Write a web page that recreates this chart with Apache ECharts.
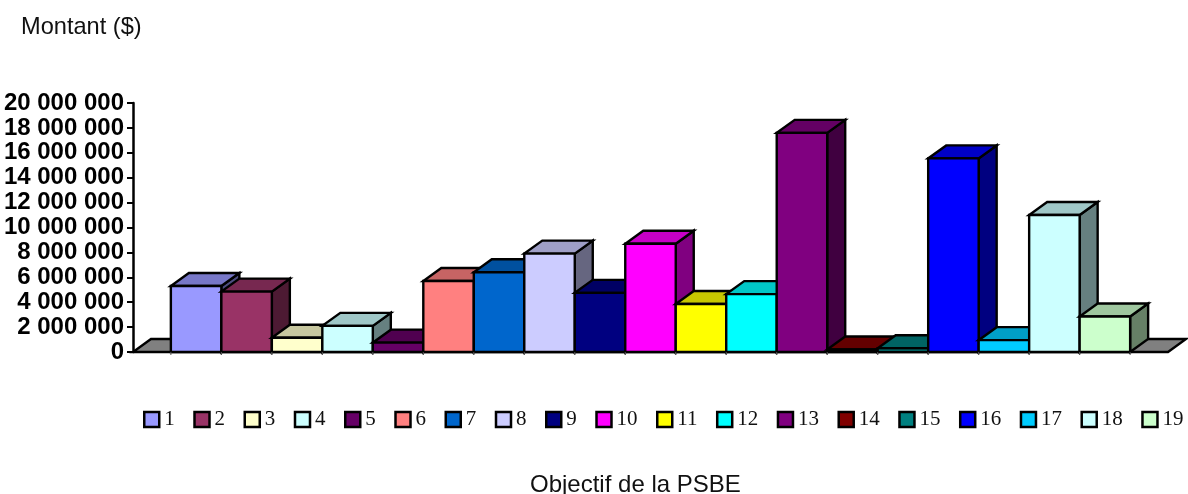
<!DOCTYPE html>
<html>
<head>
<meta charset="utf-8">
<style>html,body{margin:0;padding:0;background:#fff}#c{width:1188px;height:494px}</style>
<script src="https://cdn.jsdelivr.net/npm/echarts@6/dist/echarts.min.js"></script>
</head>
<body>
<div id="c"></div>
<script>
const objectives = ['1','2','3','4','5','6','7','8','9','10','11','12','13','14','15','16','17','18','19'];
const amounts = [5300000,4850000,1150000,2100000,750000,5700000,6400000,7900000,4750000,8700000,3850000,4650000,17600000,200000,300000,15550000,950000,11000000,2850000];
const colors = ['#9999FF','#993366','#FFFFCC','#CCFFFF','#660066','#FF8080','#0066CC','#CCCCFF','#000080','#FF00FF','#FFFF00','#00FFFF','#800080','#800000','#008080','#0000FF','#00CCFF','#CCFFFF','#CCFFCC'];
const category = ['Objectif de la PSBE'];
const yTicks = {min:0, max:20000000, interval:2000000};
const yTitle = 'Montant ($)';

const DX = 18, DY = -13, GAP = 0.75, N = objectives.length;

function shade(hex, f){
  const n = parseInt(hex.slice(1),16);
  const c = [(n>>16)&255,(n>>8)&255,n&255].map(v=>Math.round(v*f));
  return 'rgb('+c.join(',')+')';
}
function poly(points, fill){
  return {type:'polygon', shape:{points}, style:{fill, stroke:'#000', lineWidth:2.4, lineJoin:'miter'}};
}
function barGeom(api){
  const band = api.size([1,0])[0];
  const base = api.coord([0,0]);
  return {band, base, w: band/(N+2*GAP), left: base[0]-band/2};
}
function renderFloor(params, api){
  const g = barGeom(api), x0 = g.left, x1 = g.left+g.band, y = g.base[1];
  return {type:'group', children:[
    poly([[x0,y],[x1,y],[x1+DX,y+DY],[x0+DX,y+DY]], '#808080')
  ]};
}
function renderBar(i){
  return function(params, api){
    const g = barGeom(api);
    const x0 = g.left+(GAP+i)*g.w, x1 = x0+g.w;
    const yb = g.base[1], yt = api.coord([0,api.value(1)])[1];
    return {type:'group', children:[
      poly([[x1,yb],[x1+DX,yb+DY],[x1+DX,yt+DY],[x1,yt]], shade(colors[i],0.5)),
      poly([[x0,yt],[x1,yt],[x1+DX,yt+DY],[x0+DX,yt+DY]], shade(colors[i],0.78)),
      poly([[x0,yb],[x1,yb],[x1,yt],[x0,yt]], colors[i]),
      {type:'line', shape:{x1:x0,y1:yb,x2:x0,y2:yb+3}, style:{stroke:'#555',lineWidth:1}},
      {type:'line', shape:{x1:x1,y1:yb,x2:x1,y2:yb+3}, style:{stroke:'#555',lineWidth:1}}
    ]};
  };
}

const series = [{type:'custom', name:'sol', silent:true, data:[[0,0]], encode:{x:0,y:1}, renderItem:renderFloor, z:2}];
objectives.forEach((name,i)=>{
  series.push({type:'custom', name, silent:true, data:[[0,amounts[i]]], encode:{x:0,y:1},
    itemStyle:{color:colors[i]}, renderItem:renderBar(i), z:2});
});

const chart = echarts.init(document.getElementById('c'),null,{renderer:'canvas'});
chart.setOption({
  animation:false,
  backgroundColor:'#fff',
  title:[
    {text:yTitle,left:16,top:10,textStyle:{fontFamily:'Liberation Sans',fontSize:23.6,fontWeight:'normal',color:'#111'}},
    {text:category[0],left:525,top:468,textStyle:{fontFamily:'Liberation Sans',fontSize:24,fontWeight:'normal',color:'#111'}}
  ],
  legend:{
    data:objectives, left:138, top:404, width:1050, itemWidth:15, itemHeight:15, itemGap:18.5,
    icon:'rect', selectedMode:false,
    itemStyle:{borderColor:'#000',borderWidth:2.5},
    textStyle:{fontFamily:'Liberation Serif',fontSize:21,color:'#111',padding:[2,0,0,0]}
  },
  grid:{left:133,right:20,top:103,bottom:142},
  xAxis:{type:'category',data:category,
    axisLine:{lineStyle:{color:'#000',width:2}},
    axisTick:{length:5,lineStyle:{color:'#000',width:2}},
    axisLabel:{show:false}},
  yAxis:{type:'value',min:yTicks.min,max:yTicks.max,interval:yTicks.interval,
    splitLine:{show:false},
    axisLine:{show:true,lineStyle:{color:'#000',width:2.5}},
    axisTick:{show:true,length:6,lineStyle:{color:'#000',width:2}},
    axisLabel:{margin:9,color:'#000',fontFamily:'Liberation Sans',fontWeight:'bold',fontSize:24,
      formatter:v=>String(v).replace(/\B(?=(\d{3})+$)/g,' ')}},
  series
});
</script>
</body>
</html>
